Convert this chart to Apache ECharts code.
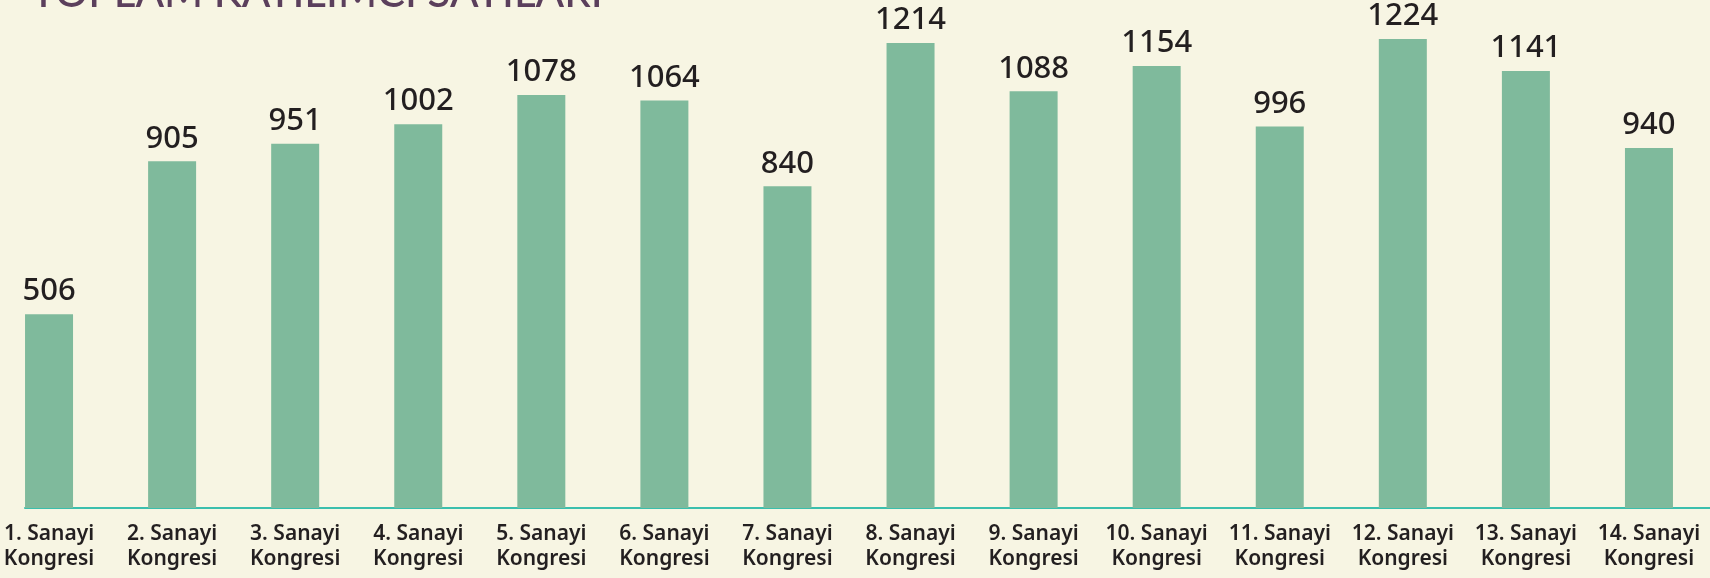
<!DOCTYPE html>
<html>
<head>
<meta charset="utf-8">
<script src="https://cdn.jsdelivr.net/npm/echarts@6/dist/echarts.min.js"></script>
<style>
  html, body { margin: 0; padding: 0; background: #f7f5e3; }
  #main { width: 1710px; height: 578px; }
</style>
</head>
<body>
<div id="main"></div>
<script>
// veriler
const categories = [
  "1. Sanayi\nKongresi", "2. Sanayi\nKongresi", "3. Sanayi\nKongresi", "4. Sanayi\nKongresi",
  "5. Sanayi\nKongresi", "6. Sanayi\nKongresi", "7. Sanayi\nKongresi", "8. Sanayi\nKongresi",
  "9. Sanayi\nKongresi", "10. Sanayi\nKongresi", "11. Sanayi\nKongresi", "12. Sanayi\nKongresi",
  "13. Sanayi\nKongresi", "14. Sanayi\nKongresi"
];
const participants = [506, 905, 951, 1002, 1078, 1064, 840, 1214, 1088, 1154, 996, 1224, 1141, 940];
const titleText = "TOPLAM KATILIMCI SAYILARI";

const myChart = echarts.init(document.getElementById("main"), null, { renderer: "canvas" });

const option = {
  backgroundColor: "#f7f5e3",
  animation: false,
  title: {
    text: titleText,
    left: 26,
    top: -33,
    textStyle: {
      fontFamily: "Lato",
      fontSize: 42,
      fontWeight: 500,
      color: "#5b3f5c"
    }
  },
  grid: [
    { left: -12.5, right: -0.5, top: 10, bottom: 70, outerBoundsMode: "none", containLabel: false },
    // sadece eksen cizgisi icin
    { left: 25, right: 0, top: 10, bottom: 70, outerBoundsMode: "none", containLabel: false }
  ],
  xAxis: [
    {
      type: "category",
      gridIndex: 0,
      data: categories,
      axisLine: { show: false },
      axisTick: { show: false },
      axisLabel: {
        interval: 0,
        margin: 14,
        fontFamily: "Noto Sans",
        fontSize: 21,
        fontWeight: 600,
        color: "#231f20",
        lineHeight: 25
      }
    },
    {
      type: "value",
      gridIndex: 1,
      min: 0,
      max: 1,
      axisLine: { show: true, lineStyle: { color: "#3bbfad", width: 2 } },
      axisTick: { show: false },
      axisLabel: { show: false },
      splitLine: { show: false }
    }
  ],
  yAxis: [
    { type: "value", gridIndex: 0, min: 0, max: 1300, show: false },
    { type: "value", gridIndex: 1, min: 0, max: 1, show: false }
  ],
  series: [
    {
      type: "bar",
      xAxisIndex: 0,
      yAxisIndex: 0,
      data: participants,
      barWidth: 48,
      itemStyle: { color: "#7fba9c" },
      label: {
        show: true,
        position: "top",
        distance: 7,
        fontFamily: "Noto Sans",
        fontSize: 31,
        fontWeight: 500,
        color: "#231f20"
      }
    }
  ]
};

myChart.setOption(option);
</script>
</body>
</html>
